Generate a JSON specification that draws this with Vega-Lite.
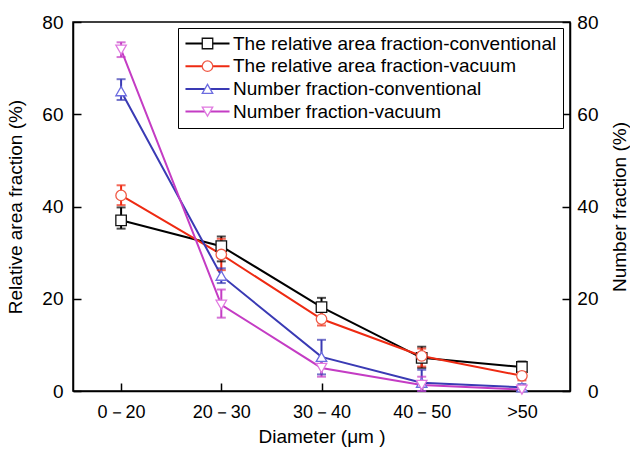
{
  "$schema": "https://vega.github.io/schema/vega-lite/v6.json",
  "width": 497,
  "height": 369,
  "autosize": {"type": "none"},
  "padding": {"left": 73, "top": 22, "right": 60, "bottom": 62},
  "background": "white",
  "config": {
    "font": "Liberation Sans",
    "view": {"stroke": "black", "strokeWidth": 1.5},
    "axis": {
      "grid": false,
      "domainColor": "black",
      "domainWidth": 1.5,
      "tickColor": "black",
      "tickWidth": 1.5,
      "tickSize": -8,
      "labelColor": "black",
      "labelFontSize": 19,
      "titleColor": "black",
      "titleFontSize": 19,
      "titleFontWeight": "normal"
    }
  },
  "data": {
    "values": [
      {"s": "The relative area fraction-conventional", "g": "area", "d": "0－20", "v": 37.0, "lo": 35.2, "hi": 39.8},
      {"s": "The relative area fraction-conventional", "g": "area", "d": "20－30", "v": 31.4, "lo": 28.1, "hi": 33.5},
      {"s": "The relative area fraction-conventional", "g": "area", "d": "30－40", "v": 18.2, "lo": 16.0, "hi": 20.2},
      {"s": "The relative area fraction-conventional", "g": "area", "d": "40－50", "v": 7.2, "lo": 5.0, "hi": 9.6},
      {"s": "The relative area fraction-conventional", "g": "area", "d": ">50", "v": 5.2, "lo": 4.0, "hi": 6.4},
      {"s": "The relative area fraction-vacuum", "g": "area", "d": "0－20", "v": 42.4, "lo": 40.3, "hi": 44.6},
      {"s": "The relative area fraction-vacuum", "g": "area", "d": "20－30", "v": 29.6, "lo": 26.2, "hi": 33.0},
      {"s": "The relative area fraction-vacuum", "g": "area", "d": "30－40", "v": 15.6, "lo": 14.2, "hi": 17.8},
      {"s": "The relative area fraction-vacuum", "g": "area", "d": "40－50", "v": 7.6, "lo": 5.3, "hi": 9.2},
      {"s": "The relative area fraction-vacuum", "g": "area", "d": ">50", "v": 3.3, "lo": 2.3, "hi": 4.4},
      {"s": "Number fraction-conventional", "g": "number", "d": "0－20", "v": 65.0, "lo": 63.1, "hi": 67.6},
      {"s": "Number fraction-conventional", "g": "number", "d": "20－30", "v": 25.0, "lo": 23.4, "hi": 26.6},
      {"s": "Number fraction-conventional", "g": "number", "d": "30－40", "v": 7.4, "lo": 3.6, "hi": 11.1},
      {"s": "Number fraction-conventional", "g": "number", "d": "40－50", "v": 1.8, "lo": 0.0, "hi": 4.6},
      {"s": "Number fraction-conventional", "g": "number", "d": ">50", "v": 0.8, "lo": 0.0, "hi": 1.5},
      {"s": "Number fraction-vacuum", "g": "number", "d": "0－20", "v": 74.0, "lo": 72.4, "hi": 75.6},
      {"s": "Number fraction-vacuum", "g": "number", "d": "20－30", "v": 18.7, "lo": 15.9, "hi": 22.0},
      {"s": "Number fraction-vacuum", "g": "number", "d": "30－40", "v": 5.0, "lo": 3.1, "hi": 6.8},
      {"s": "Number fraction-vacuum", "g": "number", "d": "40－50", "v": 1.3, "lo": 0.0, "hi": 3.1},
      {"s": "Number fraction-vacuum", "g": "number", "d": ">50", "v": 0.3, "lo": 0.0, "hi": 1.0}
    ]
  },
  "encoding": {
    "x": {
      "field": "d",
      "type": "ordinal",
      "sort": ["0－20", "20－30", "30－40", "40－50", ">50"],
      "scale": {"type": "point", "padding": 0.48},
      "axis": {
        "title": "Diameter (μm )",
        "labelAngle": 0,
        "labelFontSize": 18,
        "labelBaseline": "alphabetic",
        "labelPadding": 34,
        "titleBaseline": "alphabetic",
        "titleY": 51
      }
    }
  },
  "layer": [
    {
      "layer": [
        {
          "mark": {"type": "line", "strokeWidth": 2},
          "encoding": {
            "y": {"field": "v", "type": "quantitative", "scale": {"domain": [0, 80]},
              "axis": {"title": "Relative area fraction (%)", "values": [0, 20, 40, 60, 80], "labelPadding": 18, "titleAngle": 270, "titleBaseline": "bottom", "titleX": -48}},
            "color": {"field": "s", "type": "nominal",
              "sort": ["The relative area fraction-conventional", "The relative area fraction-vacuum", "Number fraction-conventional", "Number fraction-vacuum"],
              "scale": {"range": ["#000000", "#ee2a12", "#3a3ab4", "#c43cc4"]},
              "legend": {"title": null, "orient": "none", "legendX": 105, "legendY": 6, "strokeColor": "black", "fillColor": "white", "padding": 6, "labelFontSize": 19, "labelColor": "black", "labelLimit": 500, "symbolType": "M-4.2,0H4.2", "symbolSize": 110, "symbolOffset": 14, "labelOffset": 16, "rowPadding": 2.7, "symbolStrokeWidth": 2}
            }
          }
        },
        {
          "mark": {"type": "rule", "strokeWidth": 2},
          "encoding": {
            "y": {"field": "lo", "type": "quantitative", "scale": {"domain": [0, 80]},
              "axis": {"title": "Relative area fraction (%)", "values": [0, 20, 40, 60, 80], "labelPadding": 18, "titleAngle": 270, "titleBaseline": "bottom", "titleX": -48}},
            "y2": {"field": "hi"},
            "color": {"field": "s", "type": "nominal", "legend": null,
              "sort": ["The relative area fraction-conventional", "The relative area fraction-vacuum", "Number fraction-conventional", "Number fraction-vacuum"]}
          }
        },
        {
          "mark": {"type": "tick", "thickness": 2, "size": 9},
          "encoding": {
            "y": {"field": "lo", "type": "quantitative", "scale": {"domain": [0, 80]},
              "axis": {"title": "Relative area fraction (%)", "values": [0, 20, 40, 60, 80], "labelPadding": 18, "titleAngle": 270, "titleBaseline": "bottom", "titleX": -48}},
            "color": {"field": "s", "type": "nominal", "legend": null,
              "sort": ["The relative area fraction-conventional", "The relative area fraction-vacuum", "Number fraction-conventional", "Number fraction-vacuum"]}
          }
        },
        {
          "mark": {"type": "tick", "thickness": 2, "size": 9},
          "encoding": {
            "y": {"field": "hi", "type": "quantitative", "scale": {"domain": [0, 80]},
              "axis": {"title": "Relative area fraction (%)", "values": [0, 20, 40, 60, 80], "labelPadding": 18, "titleAngle": 270, "titleBaseline": "bottom", "titleX": -48}},
            "color": {"field": "s", "type": "nominal", "legend": null,
              "sort": ["The relative area fraction-conventional", "The relative area fraction-vacuum", "Number fraction-conventional", "Number fraction-vacuum"]}
          }
        },
        {
          "mark": {"type": "point", "filled": false, "fill": "white", "strokeWidth": 1.3, "opacity": 1, "size": 110},
          "encoding": {
            "y": {"field": "v", "type": "quantitative", "scale": {"domain": [0, 80]},
              "axis": {"title": "Relative area fraction (%)", "values": [0, 20, 40, 60, 80], "labelPadding": 18, "titleAngle": 270, "titleBaseline": "bottom", "titleX": -48}},
            "shape": {"field": "s", "type": "nominal",
              "scale": {"domain": ["The relative area fraction-conventional", "The relative area fraction-vacuum", "Number fraction-conventional", "Number fraction-vacuum"], "range": ["square", "circle", "triangle-up", "triangle-down"]},
              "legend": {"title": null, "orient": "none", "legendX": 105, "legendY": 6, "strokeColor": "transparent", "fillColor": "transparent", "padding": 6, "labelFontSize": 19, "labelOpacity": 0, "labelLimit": 500, "symbolSize": 110, "symbolOffset": 14, "labelOffset": 16, "rowPadding": 2.7, "symbolStrokeWidth": 1.3, "symbolFillColor": "white"}},
            "stroke": {"field": "s", "type": "nominal",
              "scale": {"domain": ["The relative area fraction-conventional", "The relative area fraction-vacuum", "Number fraction-conventional", "Number fraction-vacuum"], "range": ["#111111", "#f05a46", "#6c6ce0", "#e078e0"]},
              "legend": {"title": null, "orient": "none", "legendX": 105, "legendY": 6, "strokeColor": "transparent", "fillColor": "transparent", "padding": 6, "labelFontSize": 19, "labelOpacity": 0, "labelLimit": 500, "symbolSize": 110, "symbolOffset": 14, "labelOffset": 16, "rowPadding": 2.7, "symbolStrokeWidth": 1.3, "symbolFillColor": "white"}}
          }
        }
      ]
    },
    {
      "transform": [{"filter": "datum.g === 'number'"}],
      "mark": {"type": "line", "strokeWidth": 0, "opacity": 0},
      "encoding": {
        "y": {"field": "v", "type": "quantitative", "scale": {"domain": [0, 80]},
          "axis": {"orient": "right", "title": "Number fraction (%)", "values": [0, 20, 40, 60, 80], "labelAlign": "right", "labelPadding": 36, "titleAngle": 270, "titleBaseline": "top", "titleX": 40}},
        "detail": {"field": "s", "type": "nominal"}
      }
    }
  ],
  "resolve": {"scale": {"y": "independent"}}
}
